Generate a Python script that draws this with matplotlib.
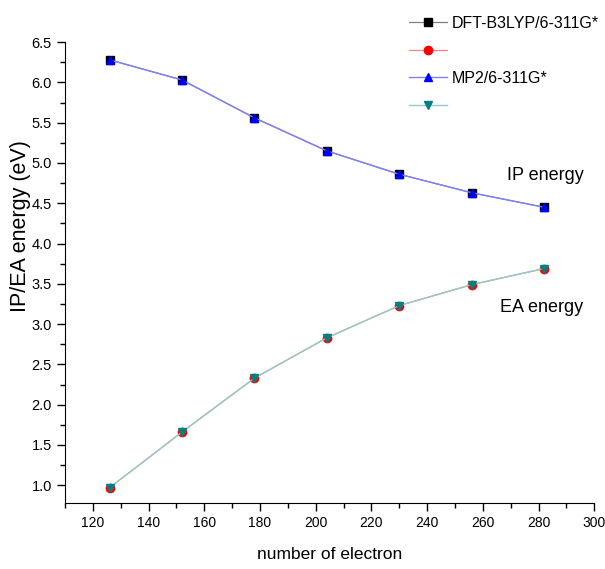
import matplotlib
matplotlib.use("Agg")
import matplotlib.pyplot as plt
from matplotlib.ticker import MultipleLocator, FormatStrFormatter

plt.rcParams['font.family'] = ['Liberation Sans', 'DejaVu Sans']

electrons = [126, 152, 178, 204, 230, 256, 282]
dft_ip = [6.28, 6.03, 5.56, 5.15, 4.86, 4.63, 4.45]
dft_ea = [0.97, 1.66, 2.33, 2.83, 3.23, 3.49, 3.69]
mp2_ip = [6.28, 6.03, 5.56, 5.15, 4.86, 4.63, 4.45]
mp2_ea = [0.97, 1.66, 2.33, 2.83, 3.23, 3.49, 3.69]

fig = plt.figure(figsize=(6.05, 5.69), dpi=100)
ax = fig.add_axes([0.1074, 0.116, 0.875, 0.81])

l1, = ax.plot(electrons, dft_ip, color='#808080', lw=0.9, marker='s', ms=5.5,
              mfc='black', mec='black', label='DFT-B3LYP/6-311G*')
l2, = ax.plot(electrons, dft_ea, color='#ff8080', lw=0.9, marker='o', ms=6,
              mfc='red', mec='red', label=' ')
l3, = ax.plot(electrons, mp2_ip, color='#8080ff', lw=1.0, marker='^', ms=6,
              mfc='blue', mec='blue', label='MP2/6-311G*')
l4, = ax.plot(electrons, mp2_ea, color='#90cccc', lw=1.0, marker='v', ms=6,
              mfc='#008080', mec='#008080', label=' ')

ax.set_xlim(110, 300)
ax.set_ylim(0.78, 6.5)
ax.xaxis.set_minor_locator(MultipleLocator(10))
ax.yaxis.set_major_locator(MultipleLocator(0.5))
ax.yaxis.set_minor_locator(MultipleLocator(0.25))
ax.set_xticks(range(120, 301, 20))
ax.yaxis.set_major_formatter(FormatStrFormatter('%.1f'))

for s in ['top', 'right']:
    ax.spines[s].set_visible(False)
ax.tick_params(which='major', direction='out', length=6, width=1, labelsize=10.5)
ax.tick_params(axis='x', labelsize=10)
ax.tick_params(which='minor', direction='out', length=3.5, width=1)

ax.set_xlabel('number of electron', fontsize=12.5, labelpad=12)
ax.set_ylabel('IP/EA energy (eV)', fontsize=15.5)
ax.yaxis.set_label_coords(-0.064, 0.6)

ax.text(268.5, 4.85, 'IP energy', fontsize=13, va='center')
ax.text(266, 3.21, 'EA energy', fontsize=13, va='center')

fig.legend(handles=[l1, l2, l3, l4], loc='upper left',
           bbox_to_anchor=(0.652, 0.998), frameon=False, fontsize=11.5,
           handlelength=2.4, labelspacing=0.8, handletextpad=0.3)

fig.savefig('out.png', dpi=100)
